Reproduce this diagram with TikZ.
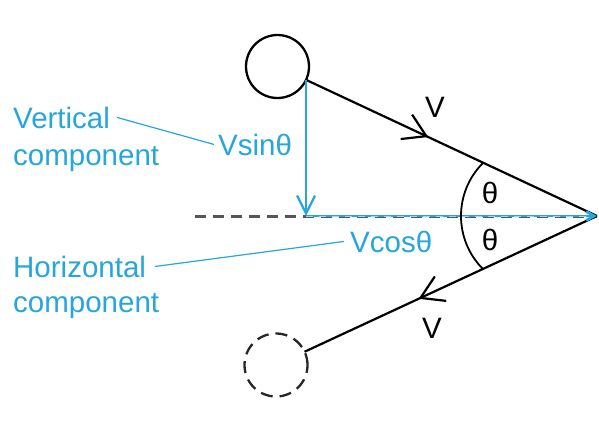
\documentclass[tikz,border=0pt]{standalone}
\usepackage{fontspec}
\setmainfont{Liberation Sans}
\usetikzlibrary{arrows.meta,decorations.markings}
\definecolor{cblue}{RGB}{38,166,218}
\definecolor{dgray}{RGB}{85,85,85}
\begin{document}
\begin{tikzpicture}[x=1pt,y=-1pt,
  lbl/.style={inner sep=0pt,font=\fontsize{29.5}{35}\selectfont},
  bluelbl/.style={lbl,text=cblue},
  ball/.style={circle,minimum size=63pt,inner sep=0pt,outer sep=0pt,line width=2.3pt},
  velline/.style={line width=2.2pt},
  leader/.style={draw=cblue,line width=1.2pt},
  chevat/.style={postaction={decorate},decoration={markings,
     mark=at position #1 with {\arrow{Straight Barb[length=22pt,width=27pt]}}}}
]
\useasboundingbox (0,0) rectangle (599,421);

% bodies
\node[ball,draw=black] (c1) at (277.5,66.5) {};
\node[ball,draw=black!85,dash pattern=on 12pt off 7pt] (c2) at (276,365) {};
\coordinate (apex) at (597,216);
\coordinate (dl) at (195,216);
\coordinate (foot) at (c1.-25 |- apex);
\coordinate (arcc) at (536,216);

% horizontal dashed reference line
\draw[dgray,line width=3pt,dash pattern=on 11pt off 7pt] (dl) -- (apex);

% velocity lines
\draw[velline,chevat=0.42] (c1) -- (apex);
\draw[velline,chevat=0.61] (apex) -- (c2);

% components
\draw[cblue,line width=2.2pt,-{Straight Barb[length=18pt,width=18pt]}] (c1.-25) -- (foot);
\draw[cblue,line width=2.8pt,-{Straight Barb[length=8pt,width=9pt]}] (foot) -- (apex);
\draw[white!55!cblue,line width=0.8pt,dash pattern=on 7pt off 6pt,shorten >=10pt] (foot) -- (apex);

% angle arc
\draw[line width=1.8pt] ([shift={(225:75)}]arcc) arc[start angle=225,end angle=135,radius=75];

% labels
\node[bluelbl,anchor=base west] (vert1) at (13,128) {Vertical};
\node[bluelbl,anchor=base west] (vert2) at (13,165) {component};
\node[bluelbl,anchor=base west] (vsin) at (218,155) {Vsinθ};
\node[bluelbl,anchor=base west] (vcos) at (350,252) {Vcosθ};
\node[bluelbl,anchor=base west] (hor1) at (13,277) {Horizontal};
\node[bluelbl,anchor=base west] (hor2) at (13,312) {component};
\node[lbl] (th1) at (490,193) {θ};
\node[lbl] (th2) at (490,240) {θ};
\node[lbl] (v1) at (435,107) {V};
\node[lbl] (v2) at (432,328) {V};

% leaders
\draw[leader] ([xshift=7pt]vert1.east) -- ([xshift=-4pt]vsin.west);
\draw[leader] ([xshift=9pt]hor1.east) -- ([xshift=-6pt]vcos.west);
\end{tikzpicture}
\end{document}
